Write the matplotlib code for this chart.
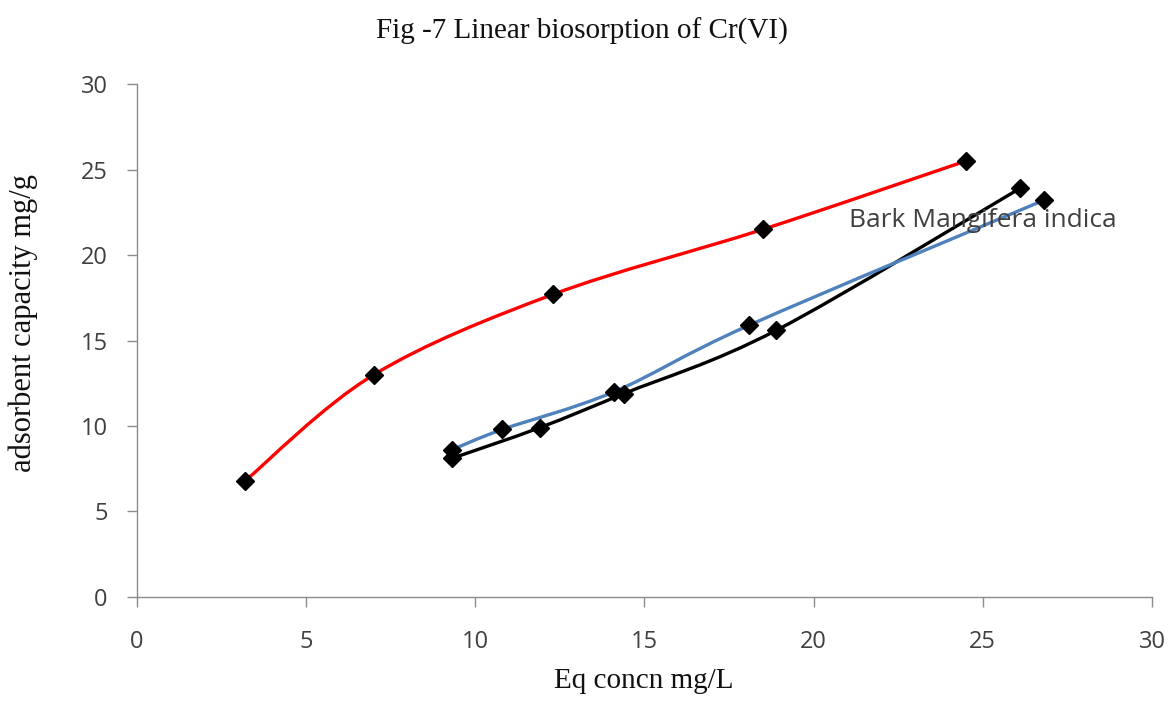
import matplotlib.pyplot as plt
from matplotlib.path import Path
from matplotlib.patches import PathPatch

# series
red_x = [3.2, 7.0, 12.3, 18.5, 24.5]
red_y = [6.8, 13.0, 17.7, 21.5, 25.5]
black_x = [9.3, 11.9, 14.4, 18.9, 26.1]
black_y = [8.1, 9.9, 11.9, 15.6, 23.9]
blue_x = [9.3, 10.8, 14.1, 18.1, 26.8]
blue_y = [8.6, 9.8, 12.0, 15.9, 23.2]

x_ticks = [0, 5, 10, 15, 20, 25, 30]
y_ticks = [0, 5, 10, 15, 20, 25, 30]

title = "Fig -7 Linear biosorption of Cr(VI)"
series_label = "Bark Mangifera indica"


def smooth_path(xs, ys):
    # Excel-like smoothed line: cubic Bezier through every point
    pts = list(zip(xs, ys))
    n = len(pts)
    verts = [pts[0]]
    codes = [Path.MOVETO]
    for i in range(n - 1):
        p0 = pts[i - 1] if i > 0 else pts[i]
        p1 = pts[i]
        p2 = pts[i + 1]
        p3 = pts[i + 2] if i + 2 < n else pts[i + 1]
        c1 = (p1[0] + (p2[0] - p0[0]) / 6, p1[1] + (p2[1] - p0[1]) / 6)
        c2 = (p2[0] - (p3[0] - p1[0]) / 6, p2[1] - (p3[1] - p1[1]) / 6)
        verts += [c1, c2, p2]
        codes += [Path.CURVE4] * 3
    return Path(verts, codes)


fig = plt.figure(figsize=(11.75, 7.02), dpi=100)
ax = fig.add_axes([0.1166, 0.1496, 0.8638, 0.7307])

for xs, ys, col, z in [(red_x, red_y, "#ff0000", 2),
                       (black_x, black_y, "#000000", 2),
                       (blue_x, blue_y, "#4f81bd", 3)]:
    ax.add_patch(PathPatch(smooth_path(xs, ys), facecolor="none",
                           edgecolor=col, lw=2.4, zorder=z))

for xs, ys in [(red_x, red_y), (black_x, black_y), (blue_x, blue_y)]:
    ax.plot(xs, ys, ls="none", marker="D", ms=9, color="black", zorder=5)

ax.set_xlim(0, 30)
ax.set_ylim(0, 30)
ax.set_xticks(x_ticks)
ax.set_yticks(y_ticks)
ax.spines["top"].set_visible(False)
ax.spines["right"].set_visible(False)
for s in ["left", "bottom"]:
    ax.spines[s].set_color("#8c8c8c")
    ax.spines[s].set_linewidth(1.0)
ax.tick_params(axis="both", direction="out", length=7, width=1.0,
               color="#8c8c8c", labelsize=17, labelcolor="#404040")
ax.tick_params(axis="x", pad=17)
ax.tick_params(axis="y", pad=14)
for lab in ax.get_xticklabels() + ax.get_yticklabels():
    lab.set_family("Open Sans")

ax.text(21.05, 22.0, series_label, fontsize=19, family="Open Sans",
        color="#404040", va="center", ha="left", clip_on=False, zorder=4)

fig.text(0.495, 0.955, title, fontsize=21, family="Liberation Serif",
         ha="center", va="center", color="#111111")
fig.text(0.02, 0.54, "adsorbent capacity mg/g", fontsize=22,
         family="Liberation Serif", rotation=90, ha="center", va="center",
         color="#111111")
fig.text(0.548, 0.03, "Eq concn mg/L", fontsize=21, family="Liberation Serif",
         ha="center", va="center", color="#111111")

fig.savefig("out.png", dpi=100)
